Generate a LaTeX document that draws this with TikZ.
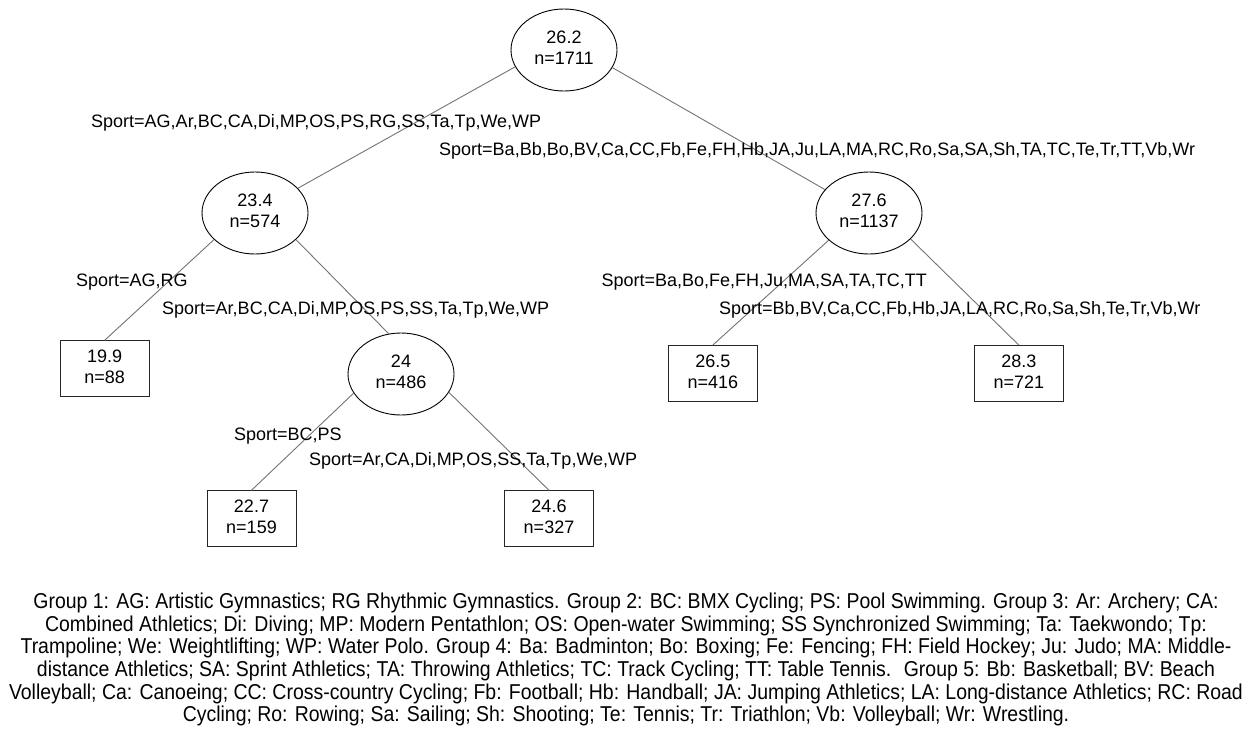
\documentclass[tikz,border=0pt]{standalone}
\usepackage{fontspec}
\setmainfont{Liberation Sans}
\newfontfamily\capfont[FakeStretch=0.905]{Liberation Sans}
\usetikzlibrary{shapes.geometric}
\tikzset{
  treefont/.style={font=\fontsize{18}{21}\selectfont},
  inner/.style={ellipse, draw=black, line width=0.9pt, fill=white, minimum width=106pt, minimum height=82pt, inner sep=0pt, align=center, treefont},
  leaf/.style={rectangle, draw=black!85, line width=0.9pt, fill=white, minimum width=89pt, minimum height=56pt, inner sep=0pt, align=center, treefont},
  edge/.style={draw=black!55, line width=0.9pt},
  elab/.style={inner sep=0pt, treefont}
}
\newcommand{\dpt}{\rule[-4.5pt]{0pt}{4.5pt}}
\begin{document}
\begin{tikzpicture}[x=1pt,y=-1pt]
\useasboundingbox (0,0) rectangle (1260,750);
% nodes
\node[inner] (root) at (564,50) {26.2\\n=1711\dpt};
\node[inner] (n23) at (255,213) {23.4\\n=574\dpt};
\node[inner] (n27) at (869,213) {27.6\\n=1137\dpt};
\node[inner] (n24) at (401,374) {24\\n=486\dpt};
\node[leaf] (b19) at (104.7,368.7) {19.9\\n=88\dpt};
\node[leaf] (b22) at (251.5,518.7) {22.7\\n=159\dpt};
\node[leaf] (b24) at (549,518.7) {24.6\\n=327\dpt};
\node[leaf] (b26) at (712.8,373.5) {26.5\\n=416\dpt};
\node[leaf] (b28) at (1018.8,373.5) {28.3\\n=721\dpt};
% edges
\draw[edge] (root.199) -- (n23.30);
\draw[edge] (root.340) -- (n27.152);
\draw[edge] (n23.213) -- (b19.north);
\draw[edge] (n23.327) -- (n24.107);
\draw[edge] (n24.202) -- (b22.north);
\draw[edge] (n24.339) -- (b24.north);
\draw[edge] (n27.214) -- (b26.north);
\draw[edge] (n27.328) -- (b28.north);
% edge labels
\node[elab, anchor=base west] (l1) at (91,127.5) {Sport=AG,Ar,BC,CA,Di,MP,OS,PS,RG,SS,Ta,Tp,We,WP};
\node[elab, anchor=base west] (l2) at (439,155.5) {Sport=Ba,Bb,Bo,BV,Ca,CC,Fb,Fe,FH,Hb,JA,Ju,LA,MA,RC,Ro,Sa,SA,Sh,TA,TC,Te,Tr,TT,Vb,Wr};
\node[elab, anchor=base west] (l3) at (76,286.5) {Sport=AG,RG};
\node[elab, anchor=base west] (l4) at (162,314.5) {Sport=Ar,BC,CA,Di,MP,OS,PS,SS,Ta,Tp,We,WP};
\node[elab, anchor=base east] (l5) at (927,286.5) {Sport=Ba,Bo,Fe,FH,Ju,MA,SA,TA,TC,TT};
\node[elab, anchor=base west] (l6) at (719,314.5) {Sport=Bb,BV,Ca,CC,Fb,Hb,JA,LA,RC,Ro,Sa,Sh,Te,Tr,Vb,Wr};
\node[elab, anchor=base west] (l7) at (234,440.5) {Sport=BC,PS};
\node[elab, anchor=base west] (l8) at (309,465.5) {Sport=Ar,CA,Di,MP,OS,SS,Ta,Tp,We,WP};
% caption (base anchor = baseline of last line)
\node[anchor=base, align=center, inner sep=0pt, font=\capfont\fontsize{21.5}{22.7}\selectfont] (cap) at (626,721.8) {%
Group 1: AG: Artistic Gymnastics; RG Rhythmic Gymnastics. Group 2: BC: BMX Cycling; PS: Pool Swimming. Group 3: Ar: Archery; CA:\\
Combined Athletics; Di: Diving; MP: Modern Pentathlon; OS: Open-water Swimming; SS Synchronized Swimming; Ta: Taekwondo; Tp:\\
Trampoline; We: Weightlifting; WP: Water Polo. Group 4: Ba: Badminton; Bo: Boxing; Fe: Fencing; FH: Field Hockey; Ju: Judo; MA: Middle-\\
distance Athletics; SA: Sprint Athletics; TA: Throwing Athletics; TC: Track Cycling; TT: Table Tennis.~ Group 5: Bb: Basketball; BV: Beach\\
Volleyball; Ca: Canoeing; CC: Cross-country Cycling; Fb: Football; Hb: Handball; JA: Jumping Athletics; LA: Long-distance Athletics; RC: Road\\
Cycling; Ro: Rowing; Sa: Sailing; Sh: Shooting; Te: Tennis; Tr: Triathlon; Vb: Volleyball; Wr: Wrestling.};
\end{tikzpicture}
\end{document}
